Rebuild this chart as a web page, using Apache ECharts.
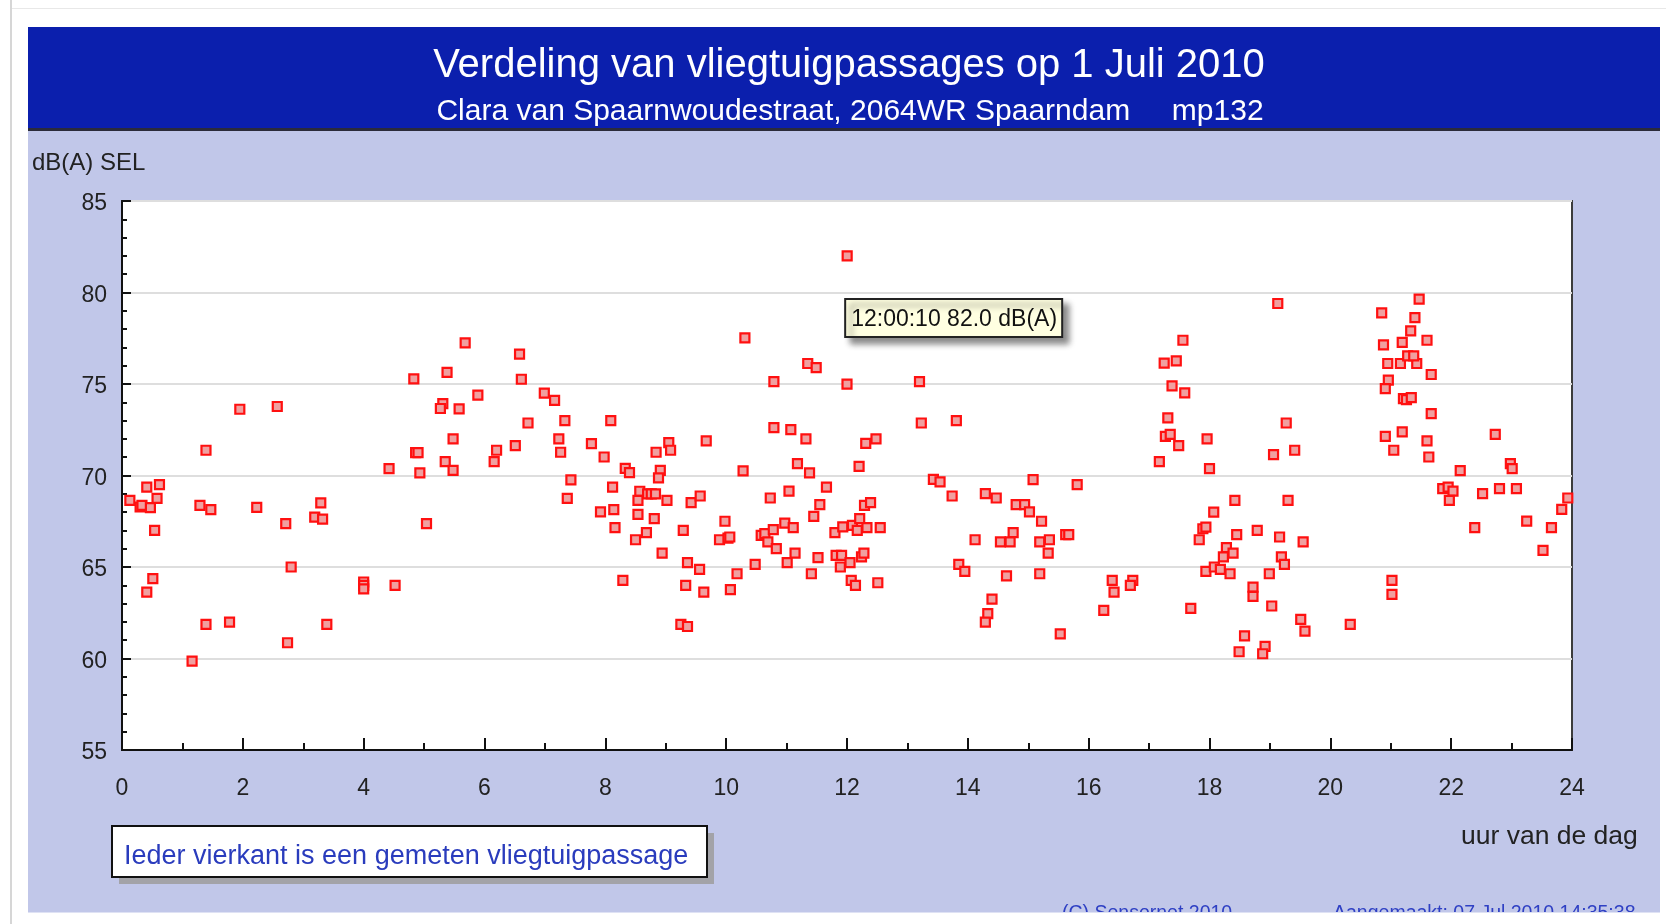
<!DOCTYPE html>
<html>
<head>
<meta charset="utf-8">
<script src="https://cdn.jsdelivr.net/npm/echarts@6/dist/echarts.min.js"></script>
<style>
  html, body { margin: 0; padding: 0; background: #ffffff; }
  #chart { width: 1666px; height: 924px; }
</style>
</head>
<body>
<div id="chart"></div>
<script>
// ---- Data: [uur van de dag, dB(A) SEL] per gemeten vliegtuigpassage ----
const passagesNacht = [
  [0.13,68.64],[0.30,68.28],[0.33,68.37],[0.47,68.24],[0.41,69.37],[0.62,69.50],[0.58,68.75],[0.54,67.00],[0.51,64.36],[0.41,63.63],
  [1.39,71.38],[1.29,68.37],[1.47,68.13],[1.95,73.62],[2.57,73.77],[2.23,68.26],[2.71,67.37],[2.80,65.00],[2.74,60.86],[1.16,59.86],
  [1.39,61.86],[1.78,61.99],[3.29,68.50],[3.19,67.73],[3.32,67.62],[3.39,61.86],
  [4.00,64.18],[4.00,64.00],[4.00,63.81],[4.52,64.00],[4.42,70.38],[4.83,75.28],[4.86,71.25],[4.90,71.25],[4.93,70.14],[5.04,67.37],
  [5.38,75.63],[5.31,73.93],[5.27,73.66],[5.58,73.64],[5.68,77.25],[5.48,72.00],[5.35,70.76],[5.48,70.28],[5.89,74.39],
  [6.58,76.63],[6.61,75.26],[6.72,72.87],[6.20,71.38],[6.16,70.76],[6.51,71.63],[6.99,74.50],[7.16,74.11],[7.33,73.00],[7.23,72.00],
  [7.26,71.27],[7.43,69.76],[7.37,68.75],[7.77,71.74],[7.98,71.01],[7.92,68.01]
];
const passagesDag = [
  [8.09,73.00],[8.12,69.37],[8.14,68.13],[8.16,67.15],
  [12.0028,82.0],[10.31,77.52],[11.35,76.12],[11.49,75.90],[10.79,75.13],[12.00,74.99],[13.20,75.13],[13.23,72.87],[13.81,73.00],
  [10.79,72.62],[11.07,72.51],[11.32,72.00],[9.05,71.80],[9.08,71.38],[8.84,71.27],[9.67,71.89],[8.33,70.39],[8.40,70.16],[8.91,70.28],
  [8.88,69.87],[10.28,70.25],[11.18,70.65],[11.38,70.14],[12.31,71.76],[12.48,72.00],[12.20,70.50],[11.66,69.37],
  [8.29,64.27],[8.57,69.14],[8.54,68.64],[8.70,69.00],[8.76,69.00],[8.83,69.00],[9.02,68.64],[8.54,67.88],[8.81,67.64],[8.68,66.88],
  [8.50,66.49],[9.29,67.00],[8.94,65.76],[9.42,68.52],[9.57,68.88],[9.98,67.50],[9.89,66.49],[10.03,66.58],[10.06,66.64],
  [10.73,68.77],[11.04,69.15],[10.97,67.40],[11.11,67.15],[10.58,66.73],[10.64,66.82],[10.78,67.04],[10.69,66.37],[10.83,66.00],
  [11.55,68.41],[11.45,67.77],[11.80,66.88],[11.93,67.19],[12.09,67.28],[12.17,67.00],[12.21,67.64],[12.33,67.15],[12.55,67.15],
  [12.29,68.37],[12.39,68.52],
  [9.36,65.24],[9.56,64.87],[9.33,64.00],[9.63,63.63],[10.18,64.63],[10.07,63.76],[10.48,65.14],[9.25,61.86],[9.36,61.75],
  [11.01,65.24],[11.14,65.76],[11.41,64.63],[11.52,65.51],[11.82,65.64],[11.91,65.64],[11.89,65.00],[12.05,65.24],[12.24,65.55],
  [12.28,65.76],[12.07,64.27],[12.14,64.00],[12.51,64.14],
  [13.43,69.79],[13.54,69.65],[13.74,68.88],[14.29,69.01],[14.47,68.77],[15.08,69.77],[15.81,69.50],[14.80,68.41],[14.94,68.41],
  [15.02,68.01],[15.22,67.50],[14.75,66.88],[14.54,66.37],[14.70,66.37],[14.12,66.49],[15.19,66.37],[15.35,66.49],[15.33,65.76],
  [15.62,66.77],[15.67,66.77],[13.85,65.14],[13.95,64.76],[14.64,64.51],[15.19,64.63],[14.40,63.25],[14.33,62.45],[14.29,61.99],
  [15.53,61.35]
];
const passagesAvond = [
  [16.25,62.63],[16.39,64.27],[16.42,63.63],[16.73,64.27],[16.69,64.00],[17.69,62.74],[17.17,70.76],[17.31,73.15],[17.27,72.14],
  [17.35,72.25],[17.49,71.63],[17.38,74.90],[17.59,74.51],[17.25,76.14],[17.45,76.26],[17.56,77.39],[17.96,72.00],[18.00,70.38],
  [19.13,79.40],[19.27,72.87],[19.06,71.14],[19.41,71.38],[18.42,68.64],[18.07,68.00],[17.89,67.09],[17.94,67.18],[17.83,66.49],
  [18.45,66.77],[18.28,66.06],[18.39,65.76],[18.23,65.55],[17.94,64.76],[18.08,65.00],[18.18,64.87],[18.34,64.63],[18.79,67.00],
  [19.16,66.64],[19.55,66.37],[19.30,68.64],[19.19,65.55],[19.24,65.14],[18.99,64.63],[18.72,63.90],[18.72,63.39],[19.03,62.87],
  [19.51,62.14],[19.58,61.50],[18.58,61.24],[18.49,60.37],[18.92,60.66],[18.88,60.26],[20.33,61.86],[21.02,64.27],[21.02,63.50],
  [20.85,78.89],[21.47,79.64],[21.40,78.63],[21.33,77.90],[21.19,77.27],[21.60,77.39],[20.88,77.14],[20.95,76.12],[21.16,76.12],
  [21.43,76.12],[21.28,76.54],[21.38,76.54],[21.67,75.52],[20.96,75.21],[20.91,74.75],[21.21,74.20],[21.26,74.15],[21.34,74.26],
  [21.67,73.38],[20.91,72.14],[21.19,72.38],[21.05,71.38],[21.60,71.89],[21.63,71.01],[22.15,70.27],[21.86,69.28],[21.95,69.37],
  [22.03,69.15],[21.97,68.64],[22.52,69.01],[22.80,69.28],[23.08,69.28],[22.73,72.25],[22.98,70.65],[23.01,70.38],[22.39,67.15],
  [23.25,67.51],[23.66,67.15],[23.52,65.91],[23.83,68.15],[23.93,68.77]
];
const xTicks = { min: 0, max: 24, step: 2 };
const yTicks = { min: 55, max: 85, step: 5 };
const titleText = 'Verdeling van vliegtuigpassages op 1 Juli 2010';
const subtitleText = 'Clara van Spaarnwoudestraat, 2064WR Spaarndam     mp132';
const yUnitText = 'dB(A) SEL';
const xUnitText = 'uur van de dag';
const legendText = 'Ieder vierkant is een gemeten vliegtuigpassage';
const copyrightText = '(C) Sensornet 2010';
const createdText = 'Aangemaakt: 07 Jul 2010 14:35:38';

const allPassages = passagesNacht.concat(passagesDag, passagesAvond);

const FONT = '"Liberation Sans", Arial, sans-serif';
const chart = echarts.init(document.getElementById('chart'), null, { renderer: 'canvas' });

const option = {
  animation: false,
  backgroundColor: '#ffffff',
  grid: {
    left: 122, top: 201, width: 1450, height: 549,
    show: true, backgroundColor: '#ffffff', borderColor: '#3c3c3c', borderWidth: 2
  },
  xAxis: {
    type: 'value', min: xTicks.min, max: xTicks.max, interval: xTicks.step,
    axisLine: { lineStyle: { color: '#111', width: 2 } },
    axisTick: { inside: true, length: 12, lineStyle: { color: '#111', width: 2 } },
    minorTick: { show: true, splitNumber: 2, length: 7, lineStyle: { color: '#111', width: 2 } },
    splitLine: { show: false },
    axisLabel: { margin: 27, fontSize: 23, color: '#222', fontFamily: FONT }
  },
  yAxis: {
    type: 'value', min: yTicks.min, max: yTicks.max, interval: yTicks.step,
    axisLine: { lineStyle: { color: '#111', width: 2 } },
    axisTick: { inside: true, length: 9, lineStyle: { color: '#111', width: 2 } },
    minorTick: { show: true, splitNumber: 5, length: 5, lineStyle: { color: '#111', width: 2 } },
    splitLine: { show: true, lineStyle: { color: '#dedede', width: 2 } },
    axisLabel: {
      margin: 15, color: '#222', fontSize: 23, fontFamily: FONT,
      formatter: '{v|{value}}',
      rich: { v: { fontSize: 23, fontFamily: FONT, color: '#222', padding: [6, 0, 0, 0] } }
    }
  },
  series: [{
    type: 'scatter',
    data: allPassages,
    symbol: 'rect',
    symbolSize: 9,
    itemStyle: { color: '#f0a0a0', borderColor: '#ff1010', borderWidth: 2.2, opacity: 1 },
    z: 5
  }]
};
chart.setOption(option);

// peak point annotation (tooltip-like box), positioned relative to the data point
let peak = allPassages[0];
allPassages.forEach(p => { if (p[1] > peak[1]) peak = p; });
const hh = Math.floor(peak[0]);
const mm = Math.floor((peak[0] - hh) * 60);
const ss = Math.round(((peak[0] - hh) * 60 - mm) * 60);
const pad = n => String(n).padStart(2, '0');
const peakLabel = pad(hh) + ':' + pad(mm) + ':' + pad(ss) + ' ' + peak[1].toFixed(1) + ' dB(A)';
const pk = chart.convertToPixel({ gridIndex: 0 }, peak);
const boxX = pk[0] - 2, boxY = pk[1] + 43;

chart.setOption({
  graphic: [
    // window edges
    { type: 'rect', z: -20, shape: { x: 10, y: 0, width: 2, height: 924 }, style: { fill: '#d6d6d6' } },
    { type: 'rect', z: -20, shape: { x: 12, y: 8, width: 1654, height: 1 }, style: { fill: '#e8e8e8' } },
    // light panel
    { type: 'rect', z: -20, shape: { x: 28, y: 129, width: 1632, height: 783 }, style: { fill: '#c1c7e9' } },
    // header
    { type: 'rect', z: -19, shape: { x: 28, y: 27, width: 1632, height: 102 }, style: { fill: '#0b1fad' } },
    { type: 'rect', z: -19, shape: { x: 28, y: 128, width: 1632, height: 3 }, style: { fill: '#2b2b3a' } },
    { type: 'text', z: 10, style: { x: 849, y: 66, text: titleText, fill: '#ffffff', fontSize: 40, fontFamily: FONT, align: 'center', verticalAlign: 'middle' } },
    { type: 'text', z: 10, style: { x: 850, y: 112, text: subtitleText, fill: '#ffffff', fontSize: 30, fontFamily: FONT, align: 'center', verticalAlign: 'middle' } },
    // axis unit labels
    { type: 'text', z: 10, style: { x: 32, y: 163, text: yUnitText, fill: '#222', fontSize: 24, fontFamily: FONT, align: 'left', verticalAlign: 'middle' } },
    { type: 'text', z: 10, style: { x: 1461, y: 837, text: xUnitText, fill: '#222', fontSize: 26.5, fontFamily: FONT, align: 'left', verticalAlign: 'middle' } },
    // legend note
    { type: 'rect', z: 10, shape: { x: 119, y: 833, width: 595, height: 51 }, style: { fill: '#a3a3a8' } },
    { type: 'rect', z: 11, shape: { x: 112, y: 826, width: 595, height: 51 }, style: { fill: '#ffffff', stroke: '#111', lineWidth: 2 } },
    { type: 'text', z: 12, style: { x: 124, y: 857, text: legendText, fill: '#2a3cbd', fontSize: 27, fontFamily: FONT, align: 'left', verticalAlign: 'middle' } },
    // footer (clipped by page bottom)
    { type: 'text', z: 10, style: { x: 1062, y: 904, text: copyrightText, fill: '#2f40c4', fontSize: 19.5, fontFamily: FONT, align: 'left', verticalAlign: 'top' } },
    { type: 'text', z: 10, style: { x: 1333, y: 904, text: createdText, fill: '#2f40c4', fontSize: 19.5, fontFamily: FONT, align: 'left', verticalAlign: 'top' } },
    { type: 'rect', z: 20, shape: { x: 12, y: 912, width: 1654, height: 12 }, style: { fill: '#ffffff' } },
    { type: 'rect', z: 20, shape: { x: 28, y: 912, width: 1632, height: 1 }, style: { fill: '#dfe2f4' } },
    // tooltip-like annotation of the loudest passage
    { type: 'rect', z: 30, shape: { x: boxX, y: boxY, width: 217, height: 38 },
      style: { fill: '#ffffe1', stroke: '#222', lineWidth: 2, shadowBlur: 6, shadowOffsetX: 6, shadowOffsetY: 6, shadowColor: 'rgba(0,0,0,0.45)' } },
    { type: 'text', z: 31, style: { x: boxX + 6, y: boxY + 21, text: peakLabel, fill: '#111', fontSize: 23, fontFamily: FONT, align: 'left', verticalAlign: 'middle' } }
  ]
});
</script>
</body>
</html>
